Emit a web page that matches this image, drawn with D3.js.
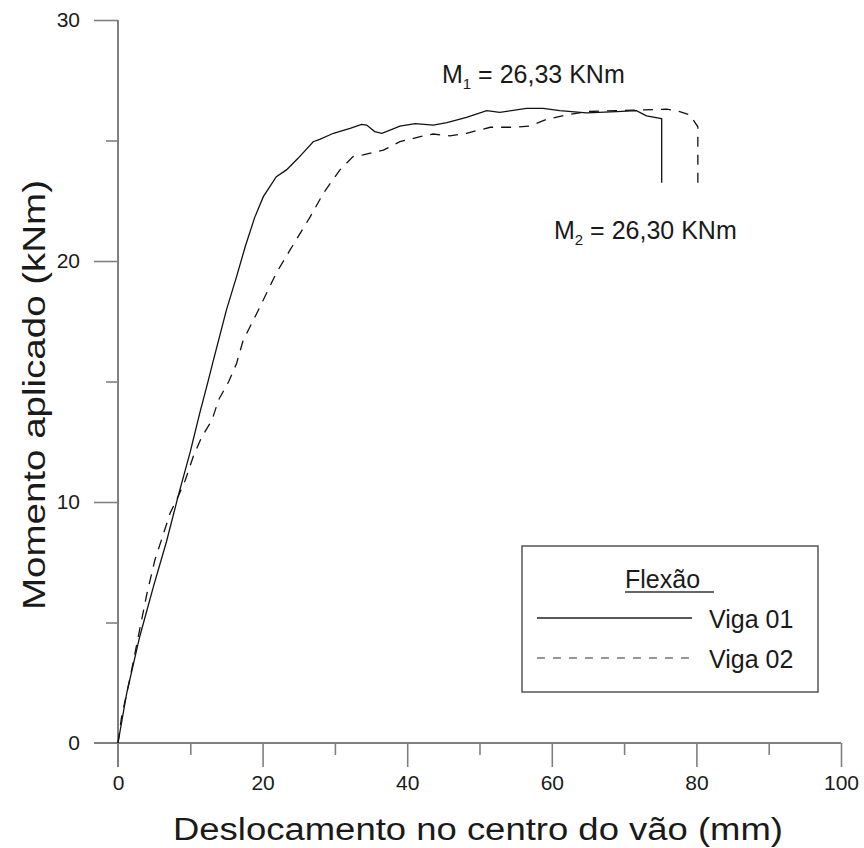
<!DOCTYPE html>
<html>
<head>
<meta charset="utf-8">
<script src="https://cdn.jsdelivr.net/npm/d3@7"></script>
<style>
  html, body { margin: 0; padding: 0; background: #fff; }
  svg { display: block; font-family: "Liberation Sans", Arial, sans-serif; }
</style>
</head>
<body>
<svg id="chart" width="864" height="848"></svg>
<script>
// Deslocamento (mm) x momento (kNm) — ensaio de flexão
const viga01X = [0, 1.2, 3.0, 4.9, 6.7, 8.3, 10.0, 11.3, 12.5, 13.2, 15.0, 16.4, 17.6, 18.9, 20.1, 21.9, 23.3, 24.9, 27.0, 27.9, 29.8, 32.1, 33.7, 34.4, 35.5, 36.5, 39.0, 41.1, 43.6, 45.5, 48.2, 51.0, 52.8, 56.5, 58.8, 61.1, 64.8, 69.0, 71.7, 73.1, 75.0, 75.2, 75.2];
const viga01Y = [0, 2.06, 4.41, 6.49, 8.35, 10.22, 12.09, 13.68, 15.06, 15.89, 17.97, 19.35, 20.6, 21.8, 22.67, 23.5, 23.78, 24.26, 24.95, 25.05, 25.3, 25.5, 25.67, 25.64, 25.37, 25.3, 25.6, 25.7, 25.64, 25.74, 25.96, 26.24, 26.17, 26.33, 26.33, 26.24, 26.15, 26.2, 26.24, 26.02, 25.92, 25.9, 23.25];

const viga02X = [0, 0.5, 1.7, 2.8, 4.0, 5.1, 6.0, 7.2, 8.3, 9.3, 10.4, 11.6, 13.0, 13.9, 15.3, 16.4, 17.3, 19.2, 21.9, 23.8, 26.6, 28.4, 30.7, 32.5, 33.9, 36.7, 39.0, 41.8, 43.6, 45.9, 48.2, 51.5, 54.9, 57.0, 59.3, 62.1, 64.8, 69.0, 72.2, 75.9, 77.7, 79.1, 80.2, 80.2];
const viga02Y = [0, 1.09, 2.75, 4.41, 6.2, 7.59, 8.42, 9.53, 10.22, 10.9, 11.88, 12.71, 13.4, 14.23, 14.99, 15.75, 16.7, 17.83, 19.5, 20.46, 21.84, 22.81, 23.78, 24.33, 24.4, 24.6, 24.95, 25.16, 25.27, 25.19, 25.3, 25.55, 25.55, 25.6, 25.88, 26.06, 26.2, 26.24, 26.27, 26.3, 26.2, 26.06, 25.57, 23.25];

const xMajorTicks = [0, 20, 40, 60, 80, 100];
const xMinorTicks = [10, 30, 50, 70, 90];
const yMajorTicks = [0, 10, 20, 30];
const yMinorTicks = [5, 15, 25];

const seriesNames = ["Viga 01", "Viga 02"];
const legendTitle = "Flexão";
const peakLabels = [
  { base: "M", sub: "1", rest: " = 26,33 KNm" },
  { base: "M", sub: "2", rest: " = 26,30 KNm" }
];
const xTitle = "Deslocamento no centro do vão (mm)";
const yTitle = "Momento aplicado (kNm)";

const svg = d3.select("#chart");
const x = d3.scaleLinear().domain([0, 100]).range([118, 841]);
const y = d3.scaleLinear().domain([0, 30]).range([743, 20]);

const axisColor = "#808080";
const textColor = "#1a1a1a";
const majorLen = 24, minorLen = 12;

// axis lines (extended by one major tick past the origin)
svg.append("line")
  .attr("x1", x(0) - majorLen).attr("x2", x(100))
  .attr("y1", y(0)).attr("y2", y(0))
  .attr("stroke", axisColor).attr("stroke-width", 2);
svg.append("line")
  .attr("x1", x(0)).attr("x2", x(0))
  .attr("y1", y(30)).attr("y2", y(0) + majorLen)
  .attr("stroke", axisColor).attr("stroke-width", 2);

function styleAxis(g) {
  g.select(".domain").remove();
  g.selectAll(".tick line").attr("stroke", axisColor).attr("stroke-width", 1.6);
  g.selectAll(".tick text").attr("fill", textColor).style("font-size", "21px");
}

svg.append("g")
  .attr("transform", `translate(0,${y(0)})`)
  .call(d3.axisBottom(x).tickValues(xMajorTicks).tickSize(majorLen).tickPadding(8).tickFormat(d3.format("d")))
  .call(styleAxis)
  .call(g => g.selectAll(".tick line").filter(d => d === 0).remove());
svg.append("g")
  .attr("transform", `translate(0,${y(0)})`)
  .call(d3.axisBottom(x).tickValues(xMinorTicks).tickSize(minorLen).tickFormat(""))
  .call(styleAxis);

svg.append("g")
  .attr("transform", `translate(${x(0)},0)`)
  .call(d3.axisLeft(y).tickValues(yMajorTicks).tickSize(majorLen).tickPadding(14).tickFormat(d3.format("d")))
  .call(styleAxis)
  .call(g => g.selectAll(".tick line").filter(d => d === 0).remove());
svg.append("g")
  .attr("transform", `translate(${x(0)},0)`)
  .call(d3.axisLeft(y).tickValues(yMinorTicks).tickSize(minorLen).tickFormat(""))
  .call(styleAxis);

// curves
const line = d3.line().x(d => x(d[0])).y(d => y(d[1]));
const v1 = viga01X.map((v, i) => [v, viga01Y[i]]);
const v2 = viga02X.map((v, i) => [v, viga02Y[i]]);

svg.append("path").datum(v2)
  .attr("d", line).attr("fill", "none")
  .attr("stroke", "#111").attr("stroke-width", 1.3)
  .attr("stroke-dasharray", "10,8");
svg.append("path").datum(v1)
  .attr("d", line).attr("fill", "none")
  .attr("stroke", "#111").attr("stroke-width", 1.3);

// peak moment annotations
function peakText(lbl, px, py) {
  const t = svg.append("text").attr("x", px).attr("y", py)
    .attr("fill", textColor).style("font-size", "25px");
  t.append("tspan").text(lbl.base);
  t.append("tspan").attr("dy", 6).style("font-size", "15px").text(lbl.sub);
  t.append("tspan").attr("dy", -6).text(lbl.rest);
}
peakText(peakLabels[0], 442, 83);
peakText(peakLabels[1], 554, 239);

// axis titles
svg.append("text")
  .attr("x", 478).attr("y", 840)
  .attr("text-anchor", "middle")
  .attr("fill", textColor)
  .style("font-size", "31px")
  .attr("textLength", 610).attr("lengthAdjust", "spacingAndGlyphs")
  .text(xTitle);

svg.append("text")
  .attr("transform", "translate(45,395) rotate(-90)")
  .attr("text-anchor", "middle")
  .attr("fill", textColor)
  .style("font-size", "31px")
  .attr("textLength", 430).attr("lengthAdjust", "spacingAndGlyphs")
  .text(yTitle);

// legend
const lg = svg.append("g");
lg.append("rect")
  .attr("x", 522).attr("y", 546).attr("width", 296).attr("height", 146)
  .attr("fill", "#fff").attr("stroke", "#555").attr("stroke-width", 1.5);
lg.append("text")
  .attr("x", 625).attr("y", 588)
  .attr("fill", textColor).style("font-size", "25px")
  .text(legendTitle);
lg.append("line")
  .attr("x1", 625).attr("x2", 714).attr("y1", 592).attr("y2", 592)
  .attr("stroke", "#333").attr("stroke-width", 1.3);

const legendRows = [
  { name: seriesNames[0], dash: null, color: "#222", y: 618 },
  { name: seriesNames[1], dash: "8,8", color: "#777", y: 658 }
];
legendRows.forEach(r => {
  lg.append("line")
    .attr("x1", 537).attr("x2", 692).attr("y1", r.y).attr("y2", r.y)
    .attr("stroke", r.color).attr("stroke-width", 1.4)
    .attr("stroke-dasharray", r.dash);
  lg.append("text")
    .attr("x", 709).attr("y", r.y + 10)
    .attr("fill", textColor).style("font-size", "25px")
    .text(r.name);
});
</script>
</body>
</html>
